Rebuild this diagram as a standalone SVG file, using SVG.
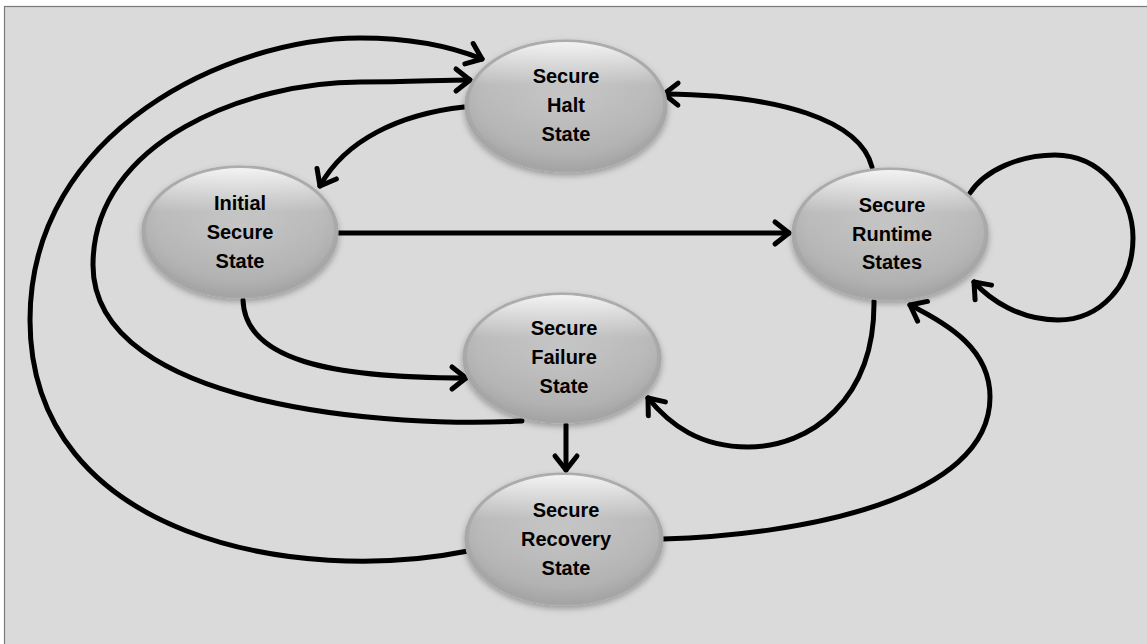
<svg xmlns="http://www.w3.org/2000/svg" width="1147" height="644" viewBox="0 0 1147 644">
  <defs>
    <style>
      .node { fill: url(#g); stroke: #a8a8a8; stroke-width: 1.2; filter: url(#sh); }
      .hl { fill: url(#hl); }
      .lbl { font-family: "Liberation Sans", Arial, sans-serif; font-weight: bold; font-size: 20px; fill: #000; text-anchor: middle; }
      .edge { fill: none; stroke: #000; stroke-width: 5; stroke-linecap: round; marker-end: url(#arr); }
    </style>
    <radialGradient id="g" cx="0.5" cy="0.45" r="0.6">
      <stop offset="0" stop-color="#bdbdbd"/>
      <stop offset="0.7" stop-color="#b0b0b0"/>
      <stop offset="1" stop-color="#9e9e9e"/>
    </radialGradient>
    <linearGradient id="hl" x1="0" y1="0" x2="0" y2="1">
      <stop offset="0" stop-color="#ffffff" stop-opacity="0.85"/>
      <stop offset="0.35" stop-color="#ffffff" stop-opacity="0.15"/>
      <stop offset="1" stop-color="#ffffff" stop-opacity="0"/>
    </linearGradient>
    <filter id="sh" x="-20%" y="-20%" width="140%" height="150%">
      <feDropShadow dx="0" dy="3" stdDeviation="3" flood-color="#000" flood-opacity="0.3"/>
    </filter>
    <marker id="arr" markerUnits="userSpaceOnUse" markerWidth="40" markerHeight="40" viewBox="-20 -20 40 40" refX="0" refY="0" orient="auto">
      <path d="M-14,-11 L0,0 L-14,11" fill="none" stroke="#000" stroke-width="5" stroke-linecap="round" stroke-linejoin="round"/>
    </marker>
  </defs>
  <rect x="0" y="0" width="1147" height="644" fill="#ffffff"/>
  <rect x="4.5" y="6.5" width="1150" height="650" fill="#dadada" stroke="#7a7a7a" stroke-width="1.2"/>

  <g id="connectors">
    <path class="edge" d="M468,551 C300,585 30,540 30,320 C30,130 230,38 360,38 C410,38 450,46 482,59"/>
    <path class="edge" d="M522,421 C400,428 93,410 93,265 C93,140 250,82 360,82 C410,82 440,80 470,80"/>
    <path class="edge" d="M464,107 C400,114 345,140 320,186"/>
    <path class="edge" d="M339,233 L789,233"/>
    <path class="edge" d="M872,167 C860,120 780,95 664,94"/>
    <path class="edge" d="M970,193 C985,170 1020,155 1055,155 C1100,155 1133,195 1133,238 C1133,285 1100,320 1058,320 C1020,320 990,300 974,282"/>
    <path class="edge" d="M243,300 C245,360 330,378 466,378"/>
    <path class="edge" d="M874,301 C875,400 810,447 748,447 C700,447 670,425 648,398"/>
    <path class="edge" d="M663,539 C800,535 990,500 990,397 C990,350 950,325 910,305"/>
    <path class="edge" d="M566,425 L566,470"/>
  </g>

  <g id="halt">
    <ellipse class="node" cx="566" cy="106" rx="101" ry="66"/>
    <ellipse class="hl" cx="566" cy="104" rx="97" ry="62"/>
    <text class="lbl" x="566" y="83">Secure</text>
    <text class="lbl" x="566" y="112">Halt</text>
    <text class="lbl" x="566" y="141">State</text>
  </g>
  <g id="initial">
    <ellipse class="node" cx="240" cy="232" rx="98" ry="66"/>
    <ellipse class="hl" cx="240" cy="230" rx="94" ry="62"/>
    <text class="lbl" x="240" y="210">Initial</text>
    <text class="lbl" x="240" y="239">Secure</text>
    <text class="lbl" x="240" y="268">State</text>
  </g>
  <g id="runtime">
    <ellipse class="node" cx="890" cy="234" rx="98" ry="66"/>
    <ellipse class="hl" cx="890" cy="232" rx="94" ry="62"/>
    <text class="lbl" x="892" y="212">Secure</text>
    <text class="lbl" x="892" y="241">Runtime</text>
    <text class="lbl" x="892" y="269">States</text>
  </g>
  <g id="failure">
    <ellipse class="node" cx="562" cy="358" rx="99" ry="65"/>
    <ellipse class="hl" cx="562" cy="356" rx="95" ry="61"/>
    <text class="lbl" x="564" y="335">Secure</text>
    <text class="lbl" x="564" y="364">Failure</text>
    <text class="lbl" x="564" y="393">State</text>
  </g>
  <g id="recovery">
    <ellipse class="node" cx="564" cy="539" rx="99" ry="66"/>
    <ellipse class="hl" cx="564" cy="537" rx="95" ry="62"/>
    <text class="lbl" x="566" y="517">Secure</text>
    <text class="lbl" x="566" y="546">Recovery</text>
    <text class="lbl" x="566" y="575">State</text>
  </g>
</svg>
